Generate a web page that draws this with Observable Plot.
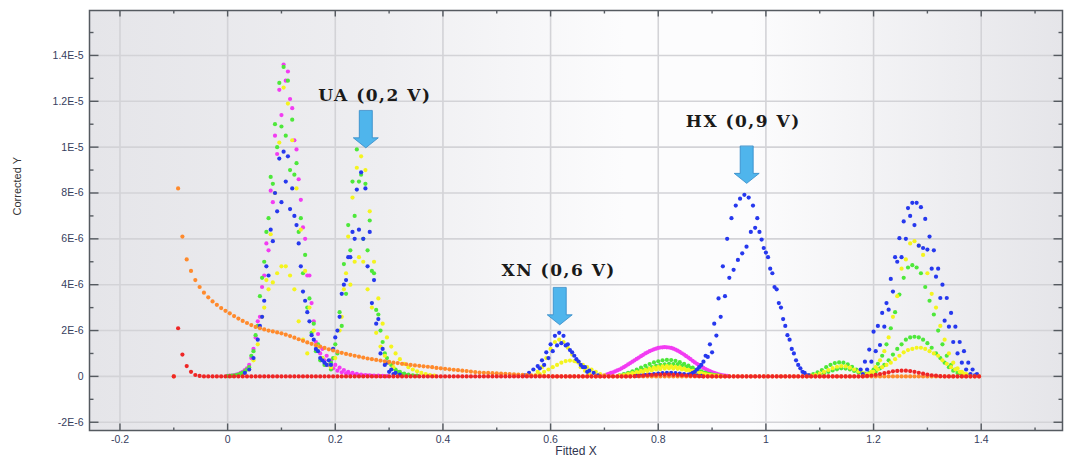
<!DOCTYPE html>
<html><head><meta charset="utf-8">
<script src="https://cdn.jsdelivr.net/npm/d3@7"></script>
<script src="https://cdn.jsdelivr.net/npm/@observablehq/plot@0.6"></script>
<style>
html,body{margin:0;padding:0;background:#fff;}
#chart{width:1066px;height:460px;}
.note text{letter-spacing:1.5px;}
</style></head><body><div id="chart"></div>
<script>
// ---- scan grid and units ----
const STEP = 0.008;          // potential step of each scan (Fitted X units)
const Y_UNIT = 1e-6;         // values below are in 1E-6 units of Corrected Y

// ---- axes ----
const xTicks = [-0.2, 0, 0.2, 0.4, 0.6, 0.8, 1, 1.2, 1.4];
const xTickLabels = ["-0.2", "0", "0.2", "0.4", "0.6", "0.8", "1", "1.2", "1.4"];
const xMinor = [-0.1, 0.1, 0.3, 0.5, 0.7, 0.9, 1.1, 1.3, 1.5];
const yTicks = [-2, 0, 2, 4, 6, 8, 10, 12, 14];
const yTickLabels = ["-2E-6", "0", "2E-6", "4E-6", "6E-6", "8E-6", "1E-5", "1.2E-5", "1.4E-5"];
const yMinor = [-1, 1, 3, 5, 7, 9, 11, 13, 15];

// ---- annotations ----
const noteText = ["UA (0,2 V)", "XN (0,6 V)", "HX (0,9 V)"];
const noteX = [0.2735, 0.615, 0.958];
const noteY = [12.24, 4.61, 11.1];
const arrowX = [0.2567, 0.617, 0.9643];
const arrowTipY = [9.97, 2.25, 8.42];

// ---- magenta scans ----
const magP1a = [0.02,0.04,0.08,0.15,0.28,0.5,1.2,2.4,3.9,5.8,8.1,10.5,12.5,13.6,13.3,11.7,9.9,7.7,6.0,4.4,2.4,1.85,1.2,0.9,0.7,0.5,0.38,0.28,0.2,0.15,0.11,0.08,0.06,0.05,0.04,0.03,0.02,0.01];
const magP1b = [0.03,0.06,0.1,0.2,0.35,0.8,1.7,2.6,4.4,5.5,7.6,9.7,11.4,12.9,12.1,10.3,8.6,6.5,4.4,3.2,1.5,1.0,0.7,0.5,0.35,0.25,0.18,0.13,0.09,0.07,0.05,0.04,0.03,0.02];
const mag08a = [0.02,0.08,0.15,0.22,0.3,0.4,0.52,0.64,0.76,0.88,1.0,1.1,1.18,1.24,1.27,1.27,1.24,1.17,1.07,0.95,0.82,0.68,0.55,0.43,0.32,0.23,0.15,0.09,0.05,0.02];
const mag08b = [0.05,0.11,0.18,0.26,0.35,0.46,0.58,0.7,0.82,0.94,1.05,1.14,1.21,1.26,1.28,1.26,1.21,1.12,1.01,0.88,0.75,0.61,0.49,0.37,0.27,0.19,0.12,0.07,0.03];

// ---- green scans ----
const grnP1a = [0.01,0.03,0.06,0.12,0.22,0.4,1.1,2.2,4.3,6.3,8.7,11.0,12.8,13.5,12.9,11.2,9.3,6.9,5.3,3.4,2.3,1.4,0.8,0.5,0.3];
const grnP1b = [0.02,0.04,0.08,0.15,0.3,0.9,1.8,3.5,5.0,6.9,8.4,10.0,10.9,10.5,9.0,8.8,6.3,4.5,3.0,1.9,1.1,0.7,0.5];
const grnP2a = [0.6,1.4,2.8,4.9,6.6,8.5,9.9,8.8,8.4,6.8,4.5,2.7,1.5,0.8,0.5,0.3,0.2,0.12,0.08,0.05,0.03];
const grnP2b = [0.8,1.0,2.2,3.6,5.5,7.0,8.5,6.0,5.5,4.6,2.9,2.0,1.0,0.6,0.35,0.2,0.1,0.05];
const grn08a = [0.05,0.1,0.16,0.22,0.3,0.38,0.46,0.54,0.61,0.66,0.7,0.72,0.71,0.68,0.62,0.55,0.47,0.38,0.3,0.22,0.15,0.1,0.06,0.03];
const grn08b = [0.04,0.08,0.12,0.17,0.23,0.29,0.35,0.41,0.46,0.5,0.53,0.55,0.54,0.52,0.47,0.42,0.36,0.29,0.23,0.17,0.11,0.08,0.05,0.02];
const grn116a = [0.05,0.1,0.18,0.28,0.4,0.5,0.58,0.61,0.6,0.52,0.42,0.3,0.2,0.12,0.06];
const grn116b = [0.02,0.05,0.09,0.14,0.2,0.26,0.31,0.35,0.34,0.3,0.24,0.17,0.1,0.06,0.03];
const grnP5a = [0.05,0.15,0.3,0.55,0.9,1.4,2.1,2.8,3.57,4.3,4.75,4.85,4.75,4.5,3.9,3.3,2.7,2.0,1.4,0.9,0.5,0.3,0.15,0.05];
const grnP5b = [0.05,0.1,0.2,0.35,0.5,0.7,0.95,1.2,1.4,1.6,1.7,1.73,1.7,1.6,1.45,1.25,1.0,0.8,0.6,0.4,0.25,0.15,0.08,0.03];

// ---- yellow scans ----
const ylwP1a = [0.3,0.7,1.4,2.6,4.2,6.2,8.0,10.2,12.6,11.9,10.3,8.2,6.4,4.6,3.0,2.0,1.3,0.8,0.5];
const ylwP1b = [3.0,3.8,4.1,4.5,4.8,4.8,4.4,3.8,2.4,1.6,1.0];
const ylwP2a = [0.4,0.8,2.0,3.8,6.1,7.8,9.1,9.6,9.0,7.2,5.0,3.4,2.3,1.7,1.3,1.0,0.75,0.55,0.4,0.3,0.22,0.15,0.1,0.06,0.03];
const ylwP2b = [2.6,4.5,4.0,5.0,5.2,5.0,3.8,3.0,1.9,1.3,0.9,0.6,0.4];
const ylwXNa = [0.2,0.4,0.8,1.2,1.5,1.6,1.5,1.25,0.95,0.65,0.4,0.25,0.1];
const ylwXNb = [0.05,0.1,0.2,0.3,0.4,0.5,0.6,0.67,0.69,0.67,0.6,0.5,0.4,0.3,0.2,0.1,0.05];
const ylw08a = [0.03,0.06,0.1,0.14,0.19,0.24,0.29,0.34,0.38,0.41,0.44,0.45,0.44,0.42,0.39,0.34,0.29,0.24,0.19,0.14,0.09,0.06,0.04,0.02];
const ylw08b = [0.02,0.05,0.08,0.11,0.15,0.19,0.23,0.26,0.3,0.32,0.34,0.35,0.34,0.33,0.3,0.27,0.23,0.19,0.15,0.11,0.07,0.05,0.03,0.01];
const ylw116 = [0.03,0.07,0.12,0.2,0.28,0.36,0.42,0.45,0.44,0.38,0.3,0.22,0.14,0.08,0.04];
const ylwP5a = [0.05,0.1,0.2,0.4,0.7,1.1,1.7,2.6,3.5,4.7,5.1,5.8,5.9,5.7,5.3,4.5,3.6,3.0,2.2,1.6,1.0,0.6,0.35,0.2,0.1,0.05];
const ylwP5b = [0.05,0.1,0.2,0.3,0.4,0.5,0.6,0.75,0.9,1.05,1.15,1.2,1.25,1.25,1.2,1.1,1.0,0.9,0.7,0.55,0.4,0.3,0.2,0.12,0.06];

// ---- blue scans ----
const bluP1a = [0.15,0.3,0.8,1.6,2.6,4.8,6.4,8.0,9.5,9.8,9.6,8.2,6.6,4.8,3.3,2.4,1.6,1.1,0.7,0.5];
const bluP1b = [2.2,3.3,4.4,5.9,7.2,7.6,8.5,7.3,7.0,5.8,3.7,2.8,1.8,1.2,0.8,0.6];
const bluP2a = [0.5,1.7,2.6,4.0,5.2,6.3,8.15,8.9,8.2,6.3,4.2,2.5,1.2,0.6,0.3,0.15,0.08];
const bluP2b = [0.7,1.2,2.0,3.6,4.2,5.2,6.0,6.4,6.0,4.8,3.2,2.3,1.0,0.5,0.2,0.1];
const bluXNa = [0.05,0.15,0.3,0.45,0.7,1.05,1.4,1.77,1.9,1.77,1.4,1.05,0.75,0.5,0.4,0.25,0.15,0.05];
const bluXNb = [0.35,0.5,0.8,1.1,1.35,1.45,1.35,1.15,0.9,0.65,0.4,0.2];
const blu08 = [0.02,0.04,0.06,0.08,0.1,0.12,0.14,0.15,0.15,0.14,0.12,0.1,0.08,0.06,0.04,0.02];
const bluHXa = [0.05,0.15,0.3,0.5,0.9,1.4,2.3,3.4,4.8,6.0,6.9,7.45,7.75,7.92,7.8,7.45,6.9,5.97,5.4,4.7,3.9,3.2,2.5,1.8,1.2,0.7,0.35,0.15,0.05];
const bluHXb = [0.1,0.2,0.4,0.64,0.85,1.05,1.78,2.6,3.5,4.3,4.65,5.08,5.37,5.66,6.3,6.48,6.3,5.6,5.2,4.5,3.8,3.0,2.2,1.6,1.0,0.5,0.2,0.05];
const bluP5a = [0.3,0.64,1.17,1.95,2.2,2.77,3.2,4.25,5.2,6.03,6.76,7.34,7.57,7.57,7.38,6.87,6.1,5.5,4.7,4.0,3.42,2.77,2.17,1.5,1.1,0.6,0.3,0.1];
const bluP5b = [0.1,0.3,0.64,1.1,1.37,2.17,2.91,3.7,5.0,5.2,6.0,7.0,6.6,5.7,5.6,5.53,4.7,4.35,3.42,2.43,2.17,1.5,1.0,0.6,0.3,0.1,0.05];

// ---- orange scan (decaying background) ----
const orgA = [0,8.2,6.1,5.1,4.6,4.2,3.9,3.65,3.45,3.27,3.12,2.98,2.86,2.75,2.63,2.52,2.42,2.33,2.24,2.16,2.1,2.05,2.0,1.96,1.92,1.88,1.82,1.76,1.69,1.62,1.55,1.48,1.42,1.36,1.3,1.24,1.18,1.13,1.08,1.03,0.98,0.94,0.9,0.86,0.82,0.78,0.75,0.72,0.69,0.66,0.63,0.6,0.58,0.55,0.53,0.5,0.48,0.46,0.44,0.42,0.4,0.37,0.35,0.33,0.31,0.29,0.27,0.25,0.23,0.21,0.19,0.17,0.16,0.15,0.14,0.13,0.12,0.11,0.1,0.09,0.08,0.07,0.06,0.05,0.04,0.03,0.02,0.01];
const orgB = [0,0,0,0,0,0,0,0,0,0, 0,0,0,0,0,0,0,0,0,0, 0,0,0,0,0,0,0,0,0,0, 0,0,0,0,0,0,0,0,0,0, 0,0,0,0,0,0,0,0,0,0, 0,0,0,0,0,0,0,0,0,0, 0,0,0,0,0,0,0,0,0,0, 0,0,0,0,0,0,0,0,0,0, 0,0,0,0,0,0,0,0,0,0, 0,0,0,0,0,0,0,0,0,0];

// ---- red scan (baseline) ----
const redA = [0,2.1,0.95,0.45,0.2,0.06,0.02];
const redZ1 = [0,0,0,0,0,0,0,0,0,0, 0,0,0,0,0,0,0,0,0,0, 0,0,0,0,0,0,0,0,0,0, 0,0,0,0,0,0,0,0,0,0, 0,0,0,0,0,0,0,0,0,0, 0,0,0,0,0,0,0,0,0,0, 0,0,0,0,0,0,0,0,0,0, 0,0,0,0,0,0,0,0,0,0, 0,0,0,0,0,0,0,0,0,0, 0,0,0,0,0,0,0,0,0,0];
const redB = [0.01,0.02,0.03,0.05,0.06,0.07,0.08,0.08,0.08,0.07,0.06,0.05,0.04,0.03,0.02,0.01];
const redZ2 = [0,0,0,0,0,0,0,0,0,0, 0,0,0,0,0,0,0,0,0,0, 0,0,0,0,0,0,0,0,0,0, 0,0,0,0,0,0,0,0];
const redC = [0.02,0.04,0.07,0.1,0.14,0.18,0.22,0.24,0.25,0.25,0.23,0.2,0.16,0.12,0.08,0.05,0.03,0.01];
const redZ3 = [0,0,0,0,0,0,0,0,0];

// ---- series colours ----
const colors = {magenta: "#f23cf2", green: "#4de83a", yellow: "#f4f41e", blue: "#2638ee", orange: "#ff8a2c", red: "#ee2626"};

// ---- scan segments: [series, first x, values] ----
const segments = [
  ["magenta", 0.000, magP1a], ["magenta", 0.004, magP1b], ["magenta", 0.696, mag08a], ["magenta", 0.700, mag08b],
  ["green", 0.000, grnP1a], ["green", 0.004, grnP1b], ["green", 0.192, grnP2a], ["green", 0.196, grnP2b],
  ["green", 0.728, grn08a], ["green", 0.732, grn08b], ["green", 1.080, grn116a], ["green", 1.084, grn116b],
  ["green", 1.184, grnP5a], ["green", 1.188, grnP5b],
  ["yellow", 0.040, ylwP1a], ["yellow", 0.068, ylwP1b], ["yellow", 0.192, ylwP2a], ["yellow", 0.212, ylwP2b],
  ["yellow", 0.576, ylwXNa], ["yellow", 0.572, ylwXNb], ["yellow", 0.728, ylw08a], ["yellow", 0.732, ylw08b],
  ["yellow", 1.084, ylw116], ["yellow", 1.180, ylwP5a], ["yellow", 1.184, ylwP5b],
  ["blue", 0.032, bluP1a], ["blue", 0.060, bluP1b], ["blue", 0.192, bluP2a], ["blue", 0.188, bluP2b],
  ["blue", 0.552, bluXNa], ["blue", 0.580, bluXNb], ["blue", 0.760, blu08],
  ["blue", 0.856, bluHXa], ["blue", 0.860, bluHXb], ["blue", 1.176, bluP5a], ["blue", 1.180, bluP5b],
  ["orange", -0.100, orgA], ["orange", 0.604, orgB],
  ["red", -0.100, redA], ["red", -0.044, redZ1], ["red", 0.756, redB], ["red", 0.884, redZ2],
  ["red", 1.188, redC], ["red", 1.332, redZ3]
];

const rows = segments.flatMap(([s, x0, vals]) => vals.map((v, i) => ({s, x: x0 + i * STEP, y: v * Y_UNIT})));
const order = ["magenta", "green", "yellow", "blue", "orange", "red"];

const yTickVals = yTicks.map(v => v * Y_UNIT);
const yMinorVals = yMinor.map(v => v * Y_UNIT);
const notes = noteText.map((t, i) => ({t, x: noteX[i], y: noteY[i] * Y_UNIT}));
const arrows = arrowX.map((x, i) => ({x, y: arrowTipY[i] * Y_UNIT}));

const tickShape = {draw(ctx, l) { ctx.moveTo(0, 0); ctx.lineTo(0, -l); }};
const blockArrow = {draw(ctx, l) {
  const h = 10, sw = 6.5, hw = 12.5;
  ctx.moveTo(-sw, 0); ctx.lineTo(-sw, -(l - h)); ctx.lineTo(-hw, -(l - h)); ctx.lineTo(0, -l);
  ctx.lineTo(hw, -(l - h)); ctx.lineTo(sw, -(l - h)); ctx.lineTo(sw, 0); ctx.closePath();
}};
const axisCol = "#555a60";
const tickMarks = (data, anchor, rotate, len, ch) => Plot.vector(data, {
  [ch]: d => d, frameAnchor: anchor, rotate, length: len, anchor: "start", shape: tickShape,
  stroke: axisCol, strokeWidth: 1.4, strokeLinecap: "butt"
});

const plot = Plot.plot({
  width: 1066, height: 460,
  marginLeft: 89, marginRight: 4, marginTop: 10, marginBottom: 30,
  style: {background: "#ffffff", fontFamily: "'Liberation Sans', Arial, sans-serif"},
  x: {domain: [-0.2566, 1.551], label: null},
  y: {domain: [-2.36e-6, 1.596e-5], label: null},
  marks: [
    Plot.frame({fill: "url(#bgGrad)", stroke: "none"}),
    Plot.gridX(xTicks, {stroke: "#d3d3d7", strokeOpacity: 1, strokeWidth: 1.6}),
    Plot.gridY(yTickVals, {stroke: "#d3d3d7", strokeOpacity: 1, strokeWidth: 1.6}),
    ...order.map(s => Plot.dot(rows.filter(d => d.s === s), {x: "x", y: "y", r: 2.1, fill: colors[s], stroke: "none"})),
    Plot.frame({stroke: axisCol, strokeWidth: 1.5}),
    tickMarks(xTicks, "bottom", 0, 7, "x"),
    tickMarks(xMinor, "bottom", 0, 3, "x"),
    tickMarks(xTicks, "top", 180, 6, "x"),
    tickMarks(xMinor, "top", 180, 3, "x"),
    tickMarks(yTickVals, "left", 90, 9, "y"),
    tickMarks(yMinorVals, "left", 90, 4, "y"),
    tickMarks(yTickVals, "right", -90, 9, "y"),
    tickMarks(yMinorVals, "right", -90, 4, "y"),
    Plot.axisX(xTicks, {tickSize: 0, tickPadding: 5, label: null, tickFormat: d => xTickLabels[xTicks.indexOf(d)], fill: "#36405e", fontSize: 10.5}),
    Plot.axisY(yTickVals, {tickSize: 0, tickPadding: 6, label: null, tickFormat: d => yTickLabels[yTickVals.indexOf(d)], fill: "#36405e", fontSize: 10.5}),
    Plot.text(["Corrected Y"], {frameAnchor: "left", rotate: -90, dx: -72, dy: -5, fontSize: 11, fill: "#333"}),
    Plot.text(["Fitted X"], {frameAnchor: "bottom", dy: 24, fontSize: 12, fill: "#2f3550"}),
    Plot.vector(arrows, {x: "x", y: "y", length: 37, rotate: 180, anchor: "end", shape: blockArrow,
      fill: "#4fb5ec", stroke: "#2f88c6", strokeWidth: 0.8, strokeLinejoin: "miter"}),
    Plot.text(notes, {x: "x", y: "y", text: "t", className: "note", fontFamily: "'DejaVu Serif', serif", fontWeight: "bold", fontSize: 17, fill: "#1a1a1a"})
  ]
});

const ns = "http://www.w3.org/2000/svg";
const defs = document.createElementNS(ns, "defs");
defs.innerHTML = '<linearGradient id="bgGrad" x1="0" x2="1" y1="0" y2="0">' +
  '<stop offset="0" stop-color="#e5e5e9"/><stop offset="0.3" stop-color="#eeeef1"/>' +
  '<stop offset="0.55" stop-color="#fcfcfd"/><stop offset="0.68" stop-color="#fcfcfd"/>' +
  '<stop offset="1" stop-color="#e5e5e9"/></linearGradient>';
plot.insertBefore(defs, plot.firstChild);
document.getElementById("chart").appendChild(plot);
</script></body></html>
